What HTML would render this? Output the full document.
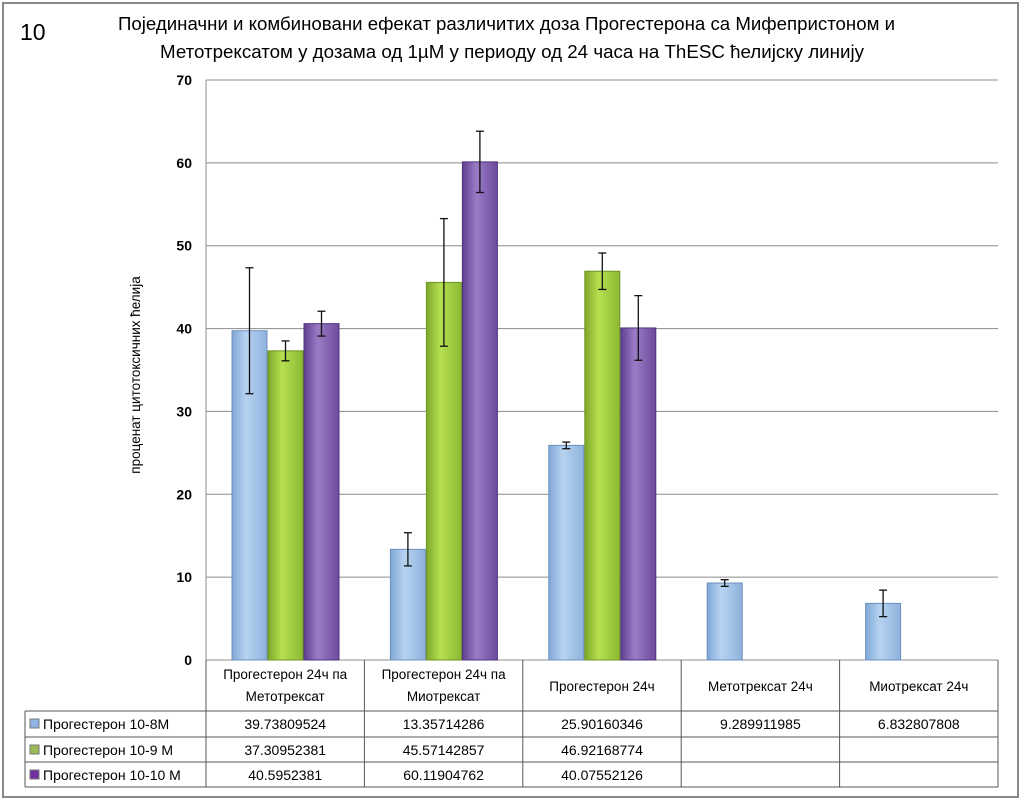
<!DOCTYPE html>
<html><head><meta charset="utf-8">
<style>
html,body{margin:0;padding:0;background:#fff;}
svg{display:block;font-family:"Liberation Sans",sans-serif;}
</style></head>
<body>
<svg id="chart" width="1024" height="804" viewBox="0 0 1024 804">
<defs>
<linearGradient id="gb" x1="0" x2="1"><stop offset="0" stop-color="#7fa7d6"/><stop offset="0.4" stop-color="#b7d3f1"/><stop offset="1" stop-color="#8eb2dc"/></linearGradient>
<linearGradient id="gg" x1="0" x2="1"><stop offset="0" stop-color="#7ea72a"/><stop offset="0.4" stop-color="#b6e050"/><stop offset="1" stop-color="#8cb834"/></linearGradient>
<linearGradient id="gp" x1="0" x2="1"><stop offset="0" stop-color="#5f3f8f"/><stop offset="0.4" stop-color="#9a7cc6"/><stop offset="1" stop-color="#6c4b9c"/></linearGradient>
</defs>
<rect x="3" y="3" width="1015" height="794" fill="#fff" stroke="#888" stroke-width="2"/>
<text x="20" y="40" font-size="23">10</text>
<text x="118" y="30" font-size="18" textLength="777" lengthAdjust="spacingAndGlyphs">Појединачни и комбиновани ефекат различитих доза Прогестерона  са Мифепристоном  и</text>
<text x="160" y="58" font-size="18" textLength="704" lengthAdjust="spacingAndGlyphs">Метотрексатом у дозама од 1µM у периоду од 24 часа на ThESC ћелијску линију</text>
<text transform="translate(140,375) rotate(-90)" font-size="13.5" text-anchor="middle">проценат цитотоксичних ћелија</text>
<g id="grid"></g>
<g id="bars"></g>
<g id="table"></g>
</svg>
<script>
const categories=[["Прогестерон 24ч па","Метотрексат"],["Прогестерон 24ч па","Миотрексат"],["Прогестерон 24ч"],["Метотрексат 24ч"],["Миотрексат 24ч"]];
const seriesNames=["Прогестерон 10-8М","Прогестерон 10-9 М","Прогестерон 10-10 М"];
const s1=[39.73809524,13.35714286,25.90160346,9.289911985,6.832807808];
const s2=[37.30952381,45.57142857,46.92168774,null,null];
const s3=[40.5952381,60.11904762,40.07552126,null,null];
const e1=[7.6,2.0,0.4,0.4,1.6];
const e2=[1.2,7.7,2.2,null,null];
const e3=[1.5,3.7,3.9,null,null];
const s1Labels=["39.73809524","13.35714286","25.90160346","9.289911985","6.832807808"];
const s2Labels=["37.30952381","45.57142857","46.92168774","",""];
const s3Labels=["40.5952381","60.11904762","40.07552126","",""];
const yTicks=[0,10,20,30,40,50,60,70];
const NS="http://www.w3.org/2000/svg";
const X0=206,X1=998,Y0=660,Y1=80,YMAX=70;
const colW=(X1-X0)/categories.length;
const y=v=>Y0-(v/YMAX)*(Y0-Y1);
const xCol=i=>X0+i*colW;
function mk(t,a,p){const e=document.createElementNS(NS,t);for(const k in a)e.setAttribute(k,a[k]);p.appendChild(e);return e;}
const grid=document.getElementById('grid');
yTicks.forEach(t=>{
  const l=mk('line',{x1:X0,x2:X1,y1:y(t),y2:y(t),stroke:'#8c8c8c','stroke-width':1},grid);
  
  
  const tx=mk('text',{x:X0-14,y:y(t)+5,'font-size':14,'text-anchor':'end','font-weight':'bold'},grid);
  tx.textContent=t;
  
  
});
const ax=mk('line',{x1:X0,x2:X0,y1:Y1,y2:Y0,stroke:'#8c8c8c'},grid);


const bars=document.getElementById('bars');
const series=[s1,s2,s3],errs=[e1,e2,e3],fills=['url(#gb)','url(#gg)','url(#gp)'],strokes=['#6d8fbf','#6f9322','#4f3380'];
const bw=35,off=26;
series.forEach((s,si)=>{s.forEach((v,ci)=>{
  if(v==null)return;
  const bx=xCol(ci)+off+si*(bw+1);
  const r=mk('rect',{x:bx,y:y(v),width:bw,height:Y0-y(v),fill:fills[si],stroke:strokes[si],'stroke-width':1},bars);
  
  
  const e=errs[si][ci];
  if(e!=null){
    const cx=bx+bw/2;
    const g=mk('g',{stroke:'#111','stroke-width':1.3},bars);
    
    
    mk('line',{x1:cx,x2:cx,y1:y(v+e),y2:y(v-e)},g);
    mk('line',{x1:cx-4,x2:cx+4,y1:y(v+e),y2:y(v+e)},g);
    mk('line',{x1:cx-4,x2:cx+4,y1:y(v-e),y2:y(v-e)},g);
  }
});});
const tb=document.getElementById('table');
const rows=[711,737,762,787];
const L=25;
const tl=(a,b,c,d,n)=>{const l=mk('line',{x1:a,y1:b,x2:c,y2:d,stroke:'#555','stroke-width':1},tb);};
tl(X0,Y0,X0,rows[3],'table-vline-0');
for(let i=1;i<=categories.length;i++)tl(xCol(i),Y0,xCol(i),rows[3],'table-vline-'+i);
tl(L,rows[0],L,rows[3],'table-left-edge');
rows.forEach((r,i)=>tl(L,r,X1,r,'table-hline-'+i));
categories.forEach((c,ci)=>{
  const cx=xCol(ci)+colW/2;
  c.forEach((ln,li)=>{
    const ty=c.length===2?(679+li*22):691;
    const t=mk('text',{x:cx,y:ty,'font-size':13.5,'text-anchor':'middle'},tb);
    t.textContent=ln;
    
    
  });
});
const labels=[s1Labels,s2Labels,s3Labels],swatch=['#8eb4e3','#9bbb59','#7030a0'];
seriesNames.forEach((n,si)=>{
  const ry=rows[si]+18;
  const sw=mk('rect',{x:30,y:ry-10,width:9,height:9,fill:swatch[si],stroke:'#777'},tb);
  
  
  const t=mk('text',{x:43,y:ry,'font-size':14},tb);
  t.textContent=n;
  
  
  labels[si].forEach((lv,ci)=>{
    if(!lv)return;
    const v=mk('text',{x:xCol(ci)+colW/2,y:ry,'font-size':14,'text-anchor':'middle'},tb);
    v.textContent=lv;
    
    
  });
});
</script>
</body></html>
